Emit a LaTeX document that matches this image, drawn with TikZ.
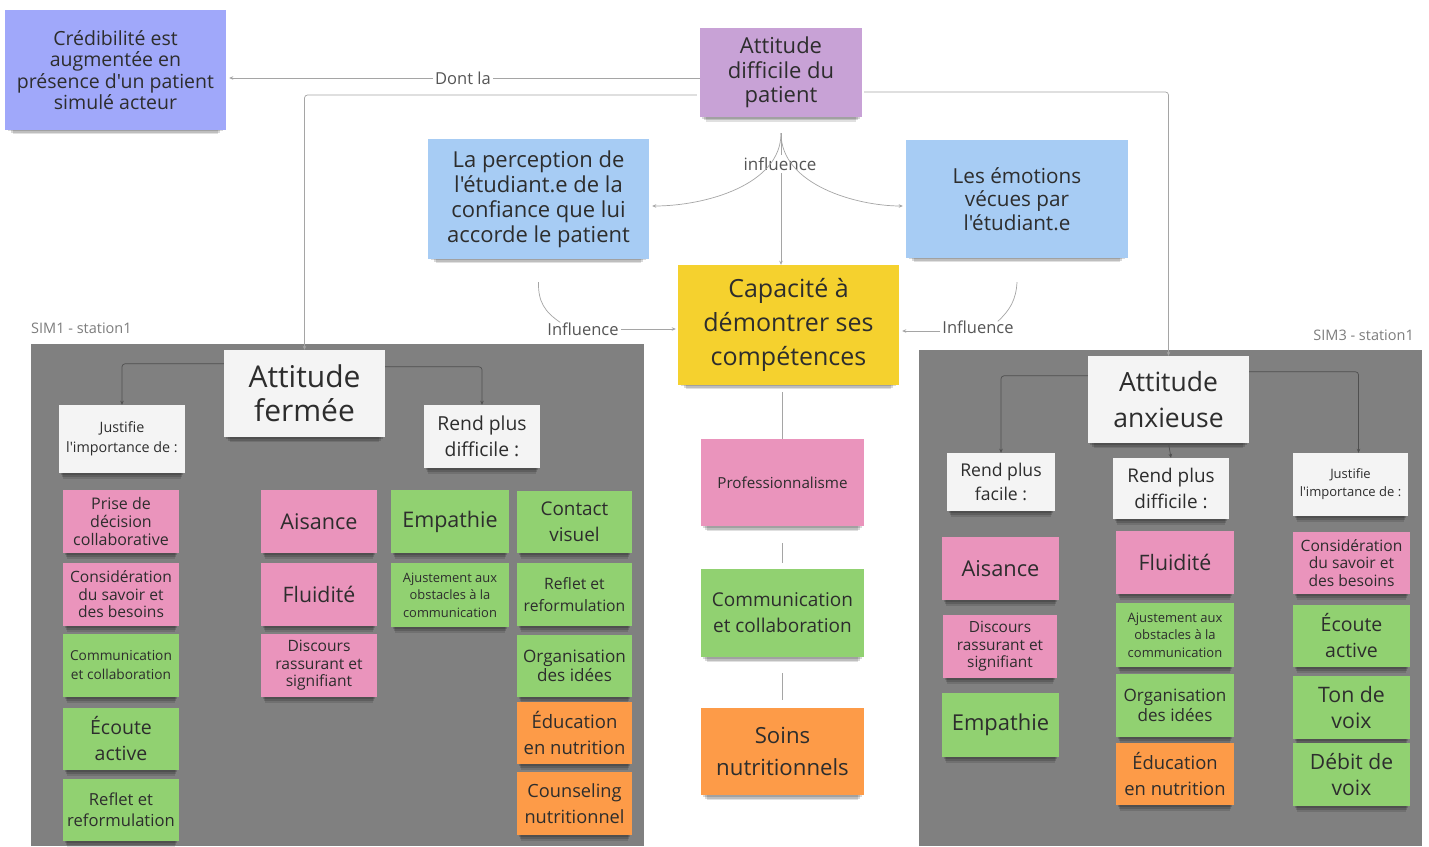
\documentclass[tikz,border=0pt]{standalone}
\usepackage{fontspec}
\setmainfont{Open Sans}[Ligatures=TeXOff]
\usetikzlibrary{arrows.meta,shadows}
\definecolor{credc}{RGB}{160,168,250}
\definecolor{attc}{RGB}{200,162,214}
\definecolor{bluec}{RGB}{167,204,244}
\definecolor{yelc}{RGB}{245,209,46}
\definecolor{pinkc}{RGB}{234,148,188}
\definecolor{greenc}{RGB}{145,209,113}
\definecolor{orangec}{RGB}{253,155,72}
\definecolor{whitec}{RGB}{244,244,244}
\definecolor{panelc}{RGB}{128,128,128}
\definecolor{txtc}{RGB}{45,45,45}
\definecolor{lblc}{RGB}{85,85,85}
\definecolor{simc}{RGB}{125,125,125}
\definecolor{connc}{RGB}{165,165,165}
\definecolor{pconnc}{RGB}{80,80,80}
\newcommand\stick[9]{\node[stk, fill=#6, minimum width={(#4)-(#2)}, minimum height={(#5)-(#3)}, font={\fontsize{#7}{#8}\selectfont}] (#1) at ({((#2)+(#4))/2},{((#3)+(#5))/2}) {#9};}
\begin{document}
\begin{tikzpicture}[x=1pt,y=-1pt,
  stk/.style={rectangle, inner sep=1pt, align=center, text=txtc,
    drop shadow={shadow scale=0.97,shadow xshift=0pt,shadow yshift=-3pt,opacity=0.15,fill=black},
    drop shadow={shadow scale=0.95,shadow xshift=0pt,shadow yshift=-6pt,opacity=0.15,fill=black},
    drop shadow={shadow scale=0.93,shadow xshift=0pt,shadow yshift=-9pt,opacity=0.12,fill=black}},
  conn/.style={draw=connc, line width=0.7pt},
  pconn/.style={draw=pconnc, line width=0.7pt, rounded corners=3pt},
  arr/.style={-{Stealth[length=4pt,width=3.5pt]}},
  lbl/.style={fill=white, inner sep=2pt, text=lblc, font={\fontsize{16.5}{20}\selectfont}},
  simlbl/.style={inner sep=0pt, text=simc, font={\fontsize{14.5}{18}\selectfont}},
]
\useasboundingbox[fill=white] (0,0) rectangle (1429,846);
% panels
\fill[panelc] (31,344) rectangle (644,846);
\fill[panelc] (919,350) rectangle (1422,846);
\node[simlbl, anchor=west] (s1) at (31,328) {SIM1 - station1};
\node[simlbl, anchor=east] (s3) at (1414,335) {SIM3 - station1};

% top nodes
\stick{cred}{5}{10}{226}{130}{credc}{19.5}{21.5}{Crédibilité est\\augmentée en\\présence d'un patient\\simulé acteur}
\stick{att}{700}{28}{862}{117}{attc}{22}{24.5}{Attitude\\difficile du\\patient}
\stick{per}{428}{139}{649}{259}{bluec}{22}{25}{La perception de\\l'étudiant.e de la\\confiance que lui\\accorde le patient}
\stick{emo}{906}{140}{1128}{258}{bluec}{20.7}{23.5}{Les émotions\\vécues par\\l'étudiant.e}
\stick{cap}{678}{265}{899}{385}{yelc}{25}{34}{Capacité à\\démontrer ses\\compétences}

% left panel
\stick{fer}{224}{350}{385}{437}{whitec}{30}{34}{Attitude\\fermée}
\stick{jus1}{59}{405}{185}{473}{whitec}{14.3}{20}{Justifie\\l'importance de :}
\stick{rpd1}{424}{405}{540}{468}{whitec}{19.3}{26}{Rend plus\\difficile :}
\stick{l1}{63}{490}{179}{553}{pinkc}{16}{18}{Prise de\\décision\\collaborative}
\stick{l2}{63}{563}{179}{626}{pinkc}{15.6}{17.5}{Considération\\du savoir et\\des besoins}
\stick{l3}{63}{634}{179}{697}{greenc}{13.7}{19}{Communication\\et collaboration}
\stick{l4}{63}{708}{179}{770}{greenc}{19.5}{26}{Écoute\\active}
\stick{l5}{63}{779}{179}{841}{greenc}{16.6}{21}{Reflet et\\reformulation}
\stick{a1}{261}{490}{377}{553}{pinkc}{21.6}{26}{Aisance}
\stick{a2}{261}{563}{377}{626}{pinkc}{21.3}{26}{Fluidité}
\stick{a3}{261}{634}{377}{697}{pinkc}{15.6}{17.5}{Discours\\rassurant et\\signifiant}
\stick{b1}{391}{490}{509}{553}{greenc}{21.5}{26}{Empathie}
\stick{b2}{391}{563}{509}{627}{greenc}{12.9}{17.5}{Ajustement aux\\obstacles à la\\communication}
\stick{c1}{517}{491}{632}{553}{greenc}{18.9}{26}{Contact\\visuel}
\stick{c2}{517}{563}{632}{626}{greenc}{15.7}{22}{Reflet et\\reformulation}
\stick{c3}{517}{635}{632}{697}{greenc}{17.1}{19}{Organisation\\des idées}
\stick{c4}{517}{702}{632}{764}{orangec}{18.5}{26}{Éducation\\en nutrition}
\stick{c5}{517}{772}{632}{835}{orangec}{18.2}{26}{Counseling\\nutritionnel}

% center column
\stick{pro}{701}{439}{864}{526}{pinkc}{15.2}{20}{Professionnalisme}
\stick{com}{701}{569}{864}{657}{greenc}{19}{26}{Communication\\et collaboration}
\stick{soi}{701}{708}{864}{795}{orangec}{22.2}{32}{Soins\\nutritionnels}

% right panel
\stick{anx}{1088}{356}{1249}{443}{whitec}{26.5}{36}{Attitude\\anxieuse}
\stick{rpf}{947}{453}{1055}{511}{whitec}{17.6}{24}{Rend plus\\facile :}
\stick{rpd2}{1113}{458}{1229}{519}{whitec}{18.9}{26}{Rend plus\\difficile :}
\stick{jus2}{1293}{453}{1408}{516}{whitec}{13}{18}{Justifie\\l'importance de :}
\stick{d1}{942}{537}{1059}{600}{pinkc}{21.8}{26}{Aisance}
\stick{d2}{943}{615}{1057}{678}{pinkc}{15.4}{17.5}{Discours\\rassurant et\\signifiant}
\stick{d3}{942}{693}{1059}{757}{greenc}{21.9}{26}{Empathie}
\stick{e1}{1116}{531}{1234}{594}{pinkc}{21.3}{26}{Fluidité}
\stick{e2}{1116}{603}{1234}{667}{greenc}{13}{17.5}{Ajustement aux\\obstacles à la\\communication}
\stick{e3}{1116}{674}{1234}{737}{greenc}{17.1}{20}{Organisation\\des idées}
\stick{e4}{1116}{743}{1234}{805}{orangec}{18.4}{26}{Éducation\\en nutrition}
\stick{f1}{1293}{532}{1410}{594}{pinkc}{15.6}{17.5}{Considération\\du savoir et\\des besoins}
\stick{f2}{1293}{605}{1410}{667}{greenc}{19.5}{26}{Écoute\\active}
\stick{f3}{1293}{676}{1410}{739}{greenc}{21.3}{26}{Ton de\\voix}
\stick{f4}{1293}{743}{1410}{806}{greenc}{21.1}{26}{Débit de\\voix}

% connectors: top
\coordinate (dl) at ([yshift=-5.5pt]att.west);
\draw[conn,arr,shorten >=3pt] (dl) -- node[lbl]{Dont la} (cred.east |- dl);
\coordinate (al) at ([yshift=-22.5pt,xshift=-3pt]att.west);
\draw[conn,arr,rounded corners=3pt] (al) -| (fer.north);
\coordinate (ar) at ([yshift=-19.5pt,xshift=2pt]att.east);
\draw[conn,arr,rounded corners=3pt] (ar) -| (anx.north);

% influence fan
\coordinate (fan) at ([yshift=-16pt]att.south);
\draw[conn,arr] (fan) -- (fan |- cap.north);
\node[lbl, font={\fontsize{17}{20}\selectfont}] (infl) at (780,164) {influence};
\draw[conn,arr] (fan) .. controls (781,185) and (705,206) .. ([yshift=-7pt,xshift=3pt]per.east);
\draw[conn,arr] (fan) .. controls (781,185) and (857,206) .. ([yshift=-7pt,xshift=-3pt]emo.west);

% Influence left / right
\node[lbl] (inL) at (583,329) {Influence};
\draw[conn] ([yshift=-23pt]per.south) .. controls (538,302) and (545,312) .. ([xshift=15pt,yshift=-2pt]inL.north west);
\draw[conn,arr,shorten >=2pt] (inL.east) -- (cap.west |- inL.east);
\node[lbl] (inR) at (978,327) {Influence};
\draw[conn] ([yshift=-24pt]emo.south) .. controls (1016,300) and (1010,310) .. ([xshift=-18pt,yshift=-3pt]inR.north east);
\coordinate (inRw) at ([yshift=-4pt]inR.west);
\draw[conn,arr,shorten >=3pt] (inRw) -- (cap.east |- inRw);

% center column
\draw[conn,shorten <=7pt] (pro.north |- cap.south) -- (pro.north);
\draw[conn,shorten <=17pt,shorten >=6pt] (pro.south) -- (com.north);
\draw[conn,shorten <=16pt,shorten >=8pt] (com.south) -- (soi.north);

% panel connectors
\draw[pconn,arr] ([yshift=-14pt]fer.north west) -| (jus1.north);
\draw[pconn,arr] ([yshift=-17pt]fer.north east) -| (rpd1.north);
\draw[pconn,arr] ([yshift=-20pt]anx.north west) -| (rpf.north);
\draw[pconn,arr] ([yshift=-16pt]anx.north east) -| ([xshift=8pt]jus2.north);
\draw[pconn,arr] (anx.south) -- (rpd2.north);
\end{tikzpicture}
\end{document}
